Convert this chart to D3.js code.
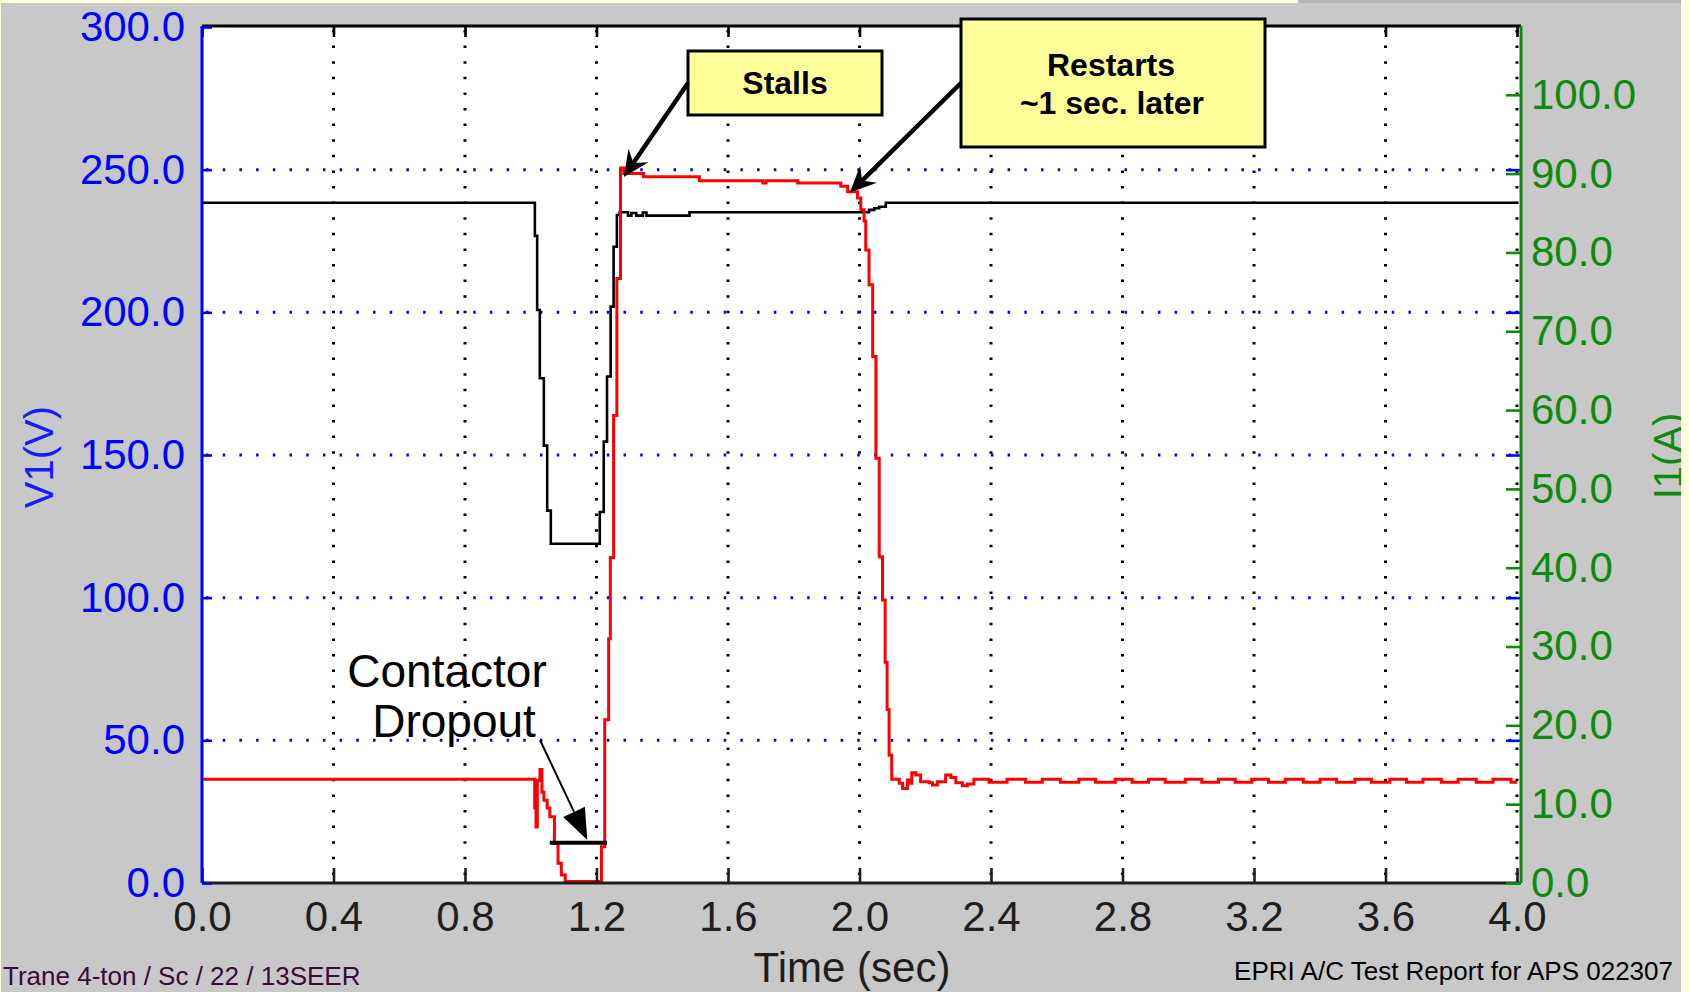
<!DOCTYPE html>
<html>
<head>
<meta charset="utf-8">
<script src="https://cdn.jsdelivr.net/npm/d3@7"></script>
<style>
  body { margin: 0; overflow: hidden; background: #ffffdc; }
  svg { display: block; font-family: "Liberation Sans", Arial, sans-serif; }
</style>
</head>
<body>
<svg id="chart" width="1689" height="992"></svg>
<script>
// ── data ──────────────────────────────────────────────────────────────────
const xTicks = [0, 0.4, 0.8, 1.2, 1.6, 2.0, 2.4, 2.8, 3.2, 3.6, 4.0];
const vTicks = [0, 50, 100, 150, 200, 250, 300];
const iTicks = [0, 10, 20, 30, 40, 50, 60, 70, 80, 90, 100];

// V1 (black trace, left axis)
const voltTime = [0, 1.0125, 1.0195, 1.0276, 1.0398, 1.050, 1.061, 1.210, 1.222, 1.232,
  1.243, 1.252, 1.262, 1.2705, 1.296, 1.306, 1.321, 1.341, 1.352, 1.483,
  2.029, 2.045, 2.060, 2.080, 4.0];
const voltV = [238.4, 226.8, 200.8, 176.9, 153.3, 130.5, 118.9, 130.0, 154.7, 177.5,
  202.0, 223.0, 234.1, 235.1, 233.9, 234.8, 233.9, 235.0, 233.9, 235.1,
  235.9, 236.5, 237.0, 238.4, 238.4];

// I1 (red trace, right axis)
const currentTime = [0, 1.012, 1.016, 1.020, 1.028, 1.034, 1.040, 1.050, 1.058, 1.072,
  1.083, 1.093, 1.105, 1.215, 1.225, 1.237, 1.242, 1.252, 1.262, 1.273,
  1.283, 1.343, 1.513, 1.706, 1.716, 1.812, 1.943, 1.964, 1.994, 2.004,
  2.014, 2.019, 2.029, 2.040, 2.050, 2.060, 2.070, 2.078, 2.084, 2.090,
  2.098, 2.121, 2.131, 2.146, 2.151, 2.159, 2.171, 2.186, 2.212, 2.222,
  2.237, 2.262, 2.278, 2.293, 2.313, 2.328, 2.348, 2.394, 2.449, 2.505,
  2.556, 2.611, 2.667, 2.718, 2.778, 2.829, 2.879, 2.930, 2.991, 3.041,
  3.092, 3.143, 3.193, 3.244, 3.295, 3.350, 3.401, 3.451, 3.507, 3.557,
  3.613, 3.664, 3.714, 3.770, 3.821, 3.876, 3.927, 3.982, 4.0];
const currentA = [13.15, 9.5, 7.1, 13.0, 14.4, 11.5, 10.5, 9.5, 8.4, 5.0,
  2.5, 1.0, 0.2, 4.6, 20.7, 31.0, 41.3, 59.3, 76.7, 90.7,
  90.0, 89.6, 89.1, 88.8, 89.1, 88.8, 88.4, 87.7, 86.9, 85.4,
  84.0, 80.3, 75.9, 66.8, 53.9, 41.4, 35.9, 28.0, 22.0, 16.2,
  13.15, 12.64, 12.0, 13.07, 12.64, 14.0, 13.7, 12.85, 12.73, 12.43,
  12.85, 13.7, 13.4, 12.73, 12.35, 12.56, 13.15, 12.77, 13.15, 12.77,
  13.15, 12.77, 13.15, 12.77, 13.15, 12.77, 13.15, 12.77, 13.15, 12.77,
  13.15, 12.77, 13.15, 12.77, 13.15, 12.77, 13.15, 12.77, 13.15, 12.77,
  13.15, 12.77, 13.15, 12.77, 13.15, 12.77, 13.15, 12.77, 12.77];

// contactor dropout bar (time span, volts)
const dropoutSpan = [1.058, 1.232];
const dropoutLevel = 14.1;

// ── layout ────────────────────────────────────────────────────────────────
const plotL = 202, plotR = 1517, axisR = 1521, plotT = 26, plotB = 883;
const svg = d3.select("#chart");

const x = d3.scaleLinear().domain([0, 4]).range([plotL, plotR]);
const yV = d3.scaleLinear().domain([0, 300]).range([plotB, plotT + 1]);
const yI = d3.scaleLinear().domain([0, 108.6]).range([plotB, plotT + 1]);
const fmt = d3.format(".1f");

// frame
svg.append("rect").attr("width", 1689).attr("height", 992).attr("fill", "#ffffdc");
svg.append("rect").attr("x", 1).attr("y", 3).attr("width", 1680).attr("height", 989).attr("fill", "#c8c8c8");
svg.append("rect").attr("x", 1298).attr("y", 0).attr("width", 383).attr("height", 3).attr("fill", "#b4b4b4");
svg.append("rect").attr("x", plotL).attr("y", plotT).attr("width", axisR - plotL).attr("height", plotB - plotT).attr("fill", "#fff");

// grid: dotted black verticals, dotted blue horizontals
svg.append("g")
  .selectAll("line")
  .data(xTicks.filter(d => d > 0))
  .join("line")
    .attr("x1", d => x(d)).attr("x2", d => x(d))
    .attr("y1", plotT + 4).attr("y2", plotB)
    .attr("stroke", "#000").attr("stroke-width", 3)
    .attr("stroke-dasharray", "2.5,13.1");

svg.append("g")
  .selectAll("line")
  .data(vTicks.filter(d => d > 0 && d < 300))
  .join("line")
    .attr("x1", plotL + 4).attr("x2", axisR)
    .attr("y1", d => yV(d)).attr("y2", d => yV(d))
    .attr("stroke", "#0000ff").attr("stroke-width", 3)
    .attr("stroke-dasharray", "2.5,14.2");

// traces
const voltLine = d3.line()
  .x((d, i) => x(voltTime[i]))
  .y(d => yV(d))
  .curve(d3.curveStepAfter);
const currentLine = d3.line()
  .x((d, i) => x(currentTime[i]))
  .y(d => yI(d))
  .curve(d3.curveStepAfter);

svg.append("path")
  .attr("d", voltLine(voltV))
  .attr("fill", "none").attr("stroke", "#000").attr("stroke-width", 2.6);
svg.append("path")
  .attr("d", currentLine(currentA))
  .attr("fill", "none").attr("stroke", "#ff0000").attr("stroke-width", 3);

// axes
const styleAxis = (g, color, size) => {
  g.attr("font-family", null).attr("font-size", size).attr("color", color);
  g.selectAll(".tick line").attr("stroke-width", 2.6);
};

svg.append("g")
  .attr("transform", `translate(0,${plotT})`)
  .call(d3.axisTop(x).tickValues(xTicks).tickSizeInner(-11).tickSizeOuter(0).tickFormat(""))
  .call(g => styleAxis(g, "#000", 42))
  .call(g => g.select(".domain").attr("d", `M${plotL},0H${axisR}`).attr("stroke-width", 3));

svg.append("g")
  .attr("transform", `translate(0,${plotB})`)
  .call(d3.axisBottom(x).tickValues(xTicks).tickSizeInner(-15).tickSizeOuter(0).tickPadding(18).tickFormat(fmt))
  .call(g => styleAxis(g, "#1e1e1e", 42))
  .call(g => g.select(".domain").attr("d", `M${plotL},0H${axisR}`).attr("stroke-width", 3));

svg.append("g")
  .attr("transform", `translate(${plotL},0)`)
  .call(d3.axisLeft(yV).tickValues(vTicks).tickSizeInner(-10).tickSizeOuter(0).tickPadding(17).tickFormat(fmt))
  .call(g => styleAxis(g, "#0000ff", 42))
  .call(g => g.select(".domain").attr("d", `M0,${plotT}V${plotB}`).attr("stroke-width", 3));

svg.append("g")
  .attr("transform", `translate(${axisR},0)`)
  .call(d3.axisLeft(yV).tickValues(vTicks.filter(d => d > 0 && d < 300)).tickSizeInner(15).tickSizeOuter(0).tickFormat(""))
  .call(g => styleAxis(g, "#0000ff", 42))
  .call(g => g.select(".domain").remove());

svg.append("g")
  .attr("transform", `translate(${axisR},0)`)
  .call(d3.axisRight(yI).tickValues(iTicks).tickSizeInner(-15).tickSizeOuter(0).tickPadding(10).tickFormat(fmt))
  .call(g => styleAxis(g, "#0e8a0e", 42))
  .call(g => g.select(".domain").attr("d", `M0,${plotT}V${plotB}`).attr("stroke-width", 3));

// axis titles
svg.append("text")
  .attr("transform", "translate(53,457) rotate(-90)")
  .attr("text-anchor", "middle")
  .attr("font-size", 40).attr("fill", "#1a1aff")
  .text("V1(V)");
svg.append("text")
  .attr("transform", "translate(1682,456) rotate(-90)")
  .attr("text-anchor", "middle")
  .attr("font-size", 40).attr("fill", "#0e8a0e")
  .text("I1(A)");
svg.append("text")
  .attr("x", 852).attr("y", 982)
  .attr("text-anchor", "middle")
  .attr("font-size", 42).attr("fill", "#1e1e1e")
  .text("Time (sec)");

// yellow right strip hides the clipped part of the I1(A) label
svg.append("rect").attr("x", 1681).attr("y", 0).attr("width", 8).attr("height", 992).attr("fill", "#ffffdc");

// footers
svg.append("text")
  .attr("x", 3).attr("y", 985)
  .attr("font-size", 26).attr("fill", "#3a0a3a")
  .text("Trane 4-ton / Sc / 22 / 13SEER");
svg.append("text")
  .attr("x", 1673).attr("y", 980)
  .attr("text-anchor", "end")
  .attr("font-size", 26).attr("fill", "#000")
  .text("EPRI A/C Test Report for APS 022307");

// ── annotations ───────────────────────────────────────────────────────────
function arrow(x1, y1, x2, y2, width, len, half, notch) {
  const dx = x2 - x1, dy = y2 - y1, d = Math.hypot(dx, dy);
  const ux = dx / d, uy = dy / d, nx = -uy, ny = ux;
  const bx = x2 - ux * len, by = y2 - uy * len;
  const mx = x2 - ux * notch, my = y2 - uy * notch;
  svg.append("line")
    .attr("x1", x1).attr("y1", y1).attr("x2", mx).attr("y2", my)
    .attr("stroke", "#000").attr("stroke-width", width);
  svg.append("path")
    .attr("d", `M${x2},${y2}L${bx + nx * half},${by + ny * half}L${mx},${my}L${bx - nx * half},${by - ny * half}Z`)
    .attr("fill", "#000");
}

// contactor dropout bar and label
svg.append("line")
  .attr("x1", x(dropoutSpan[0])).attr("x2", x(dropoutSpan[1]))
  .attr("y1", yV(dropoutLevel)).attr("y2", yV(dropoutLevel))
  .attr("stroke", "#000").attr("stroke-width", 4);
svg.append("text").attr("x", 447).attr("y", 687).attr("text-anchor", "middle")
  .attr("font-size", 46).attr("fill", "#000").text("Contactor");
svg.append("text").attr("x", 454).attr("y", 737).attr("text-anchor", "middle")
  .attr("font-size", 46).attr("fill", "#000").text("Dropout");
arrow(540, 740, x(1.172), yV(15.1), 2, 31, 12, 31);

// stalls box
svg.append("rect").attr("x", 688).attr("y", 51).attr("width", 194).attr("height", 64)
  .attr("fill", "#ffff99").attr("stroke", "#000").attr("stroke-width", 3);
svg.append("text").attr("x", 785).attr("y", 94).attr("text-anchor", "middle")
  .attr("font-size", 32).attr("font-weight", "bold").attr("fill", "#000").text("Stalls");
arrow(688, 83, x(1.283), yV(247.4), 4.5, 26, 12, 17);

// restarts box
svg.append("rect").attr("x", 961).attr("y", 19).attr("width", 304).attr("height", 128)
  .attr("fill", "#ffff99").attr("stroke", "#000").attr("stroke-width", 3);
svg.append("text").attr("x", 1111).attr("y", 76).attr("text-anchor", "middle")
  .attr("font-size", 32).attr("font-weight", "bold").attr("fill", "#000").text("Restarts");
svg.append("text").attr("x", 1112).attr("y", 114).attr("text-anchor", "middle")
  .attr("font-size", 32).attr("font-weight", "bold").attr("fill", "#000").text("~1 sec. later");
arrow(961, 83, x(1.971), yV(242), 4.5, 26, 12, 17);
</script>
</body>
</html>
